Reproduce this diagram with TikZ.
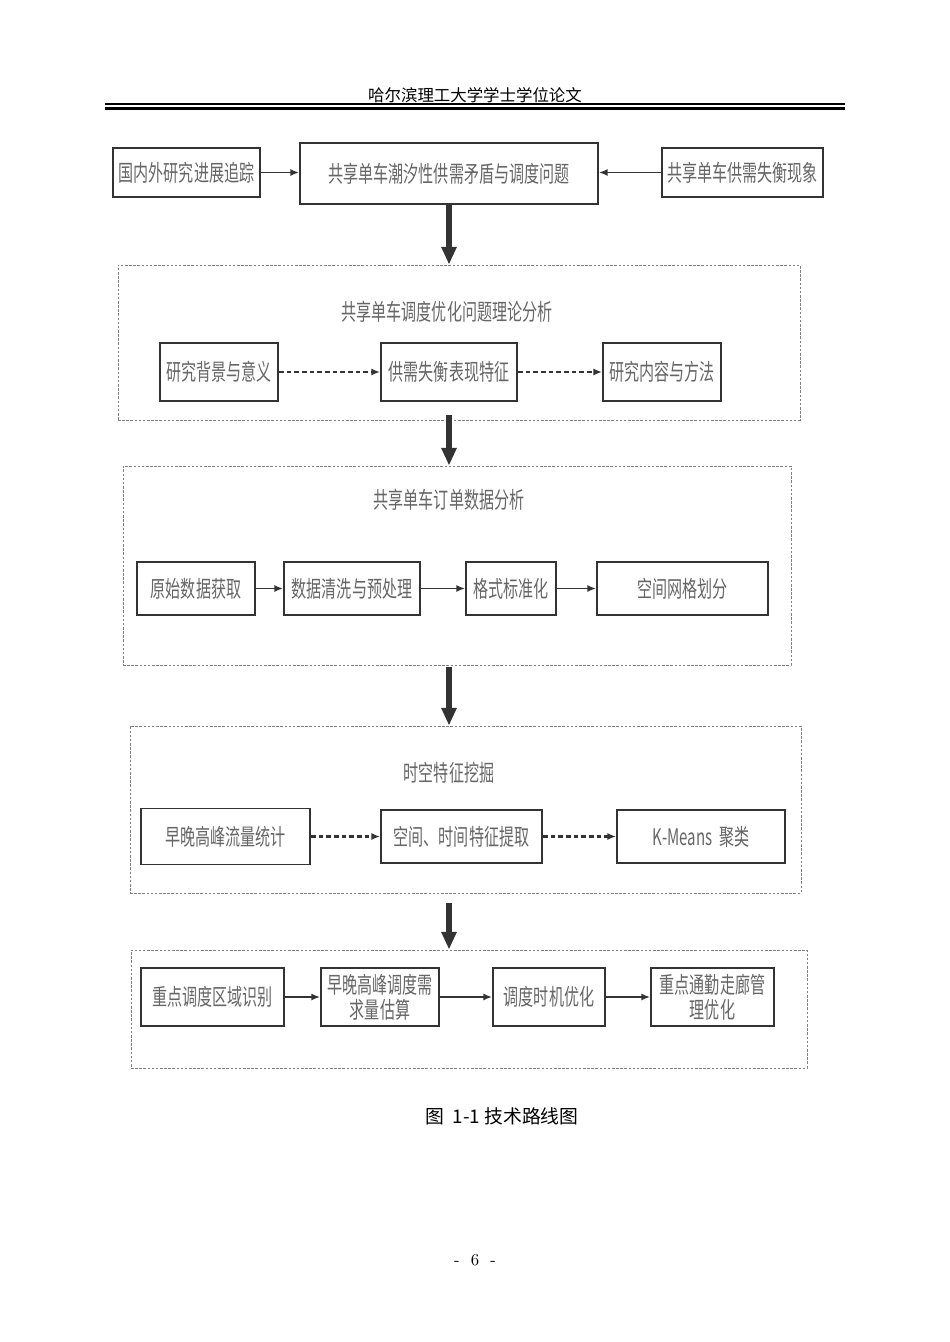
\documentclass[tikz,border=0pt]{standalone}
\usepackage{fontspec}
\newfontfamily\cjk{Noto Sans CJK SC}
\newfontfamily\cjkn[FakeStretch=0.66]{Noto Sans CJK SC}
\usepackage{tikz}
\usetikzlibrary{arrows.meta,positioning}
\definecolor{boxline}{rgb}{0.2,0.2,0.2}
\definecolor{boxtext}{rgb}{0.40,0.40,0.40}
\definecolor{framegray}{rgb}{0.50,0.50,0.50}

\begin{document}
\begin{tikzpicture}[x=0.627pt, y=-0.627pt,
    stepbox/.style={draw=boxline, line width=1.2pt, fill=white, inner sep=0pt,
                    text=boxtext, font=\cjkn\fontsize{14.3pt}{15.7pt}\selectfont,
                    align=center},
    wh/.style 2 args={minimum width=#1*0.627pt, minimum height=#2*0.627pt},
    frame/.style={draw=framegray, line width=0.6pt,
                  dash pattern=on 1.6pt off 1pt, inner sep=0pt},
    ttl/.style={text=boxtext, font=\cjkn\fontsize{14.3pt}{15.7pt}\selectfont},
    arr/.style={-{Latex[length=5.5pt,width=4.5pt]}, line width=1pt, draw=boxline},
    darr/.style={arr, line width=1.3pt, dash pattern=on 3pt off 1.8pt},
    bigarr/.style={-{Triangle[length=11pt,width=9pt]}, line width=3.4pt, draw=boxline}
  ]
    \fill[white] (0,0) rectangle (950,1342);
    \useasboundingbox (0,0) rectangle (950,1342);

    \node[font=\cjk\fontsize{10.3pt}{12pt}\selectfont] (hdr) at (475,95) {哈尔滨理工大学学士学位论文};
    \draw[line width=0.8pt] (105,104) -- (845,104);
    \draw[line width=1.8pt] (105,108.5) -- (845,108.5);

    \node[stepbox, wh={147}{49}]  (t1) at (186.5,172.5) {国内外研究进展追踪};
    \node[stepbox, wh={298}{61}]  (t2) at (449,173.5)   {共享单车潮汐性供需矛盾与调度问题};
    \node[stepbox, wh={161}{49}]  (t3) at (742.5,172.5) {共享单车供需失衡现象};
    \draw[arr] (t1.east) -- (t1.east -| t2.west);
    \draw[arr] (t3.west) -- (t3.west -| t2.east);

    \node[frame, wh={682}{155}] (f1) at (459,342.5) {};
    \node[ttl] (f1t) at (447,312) {共享单车调度优化问题理论分析};
    \node[stepbox, wh={118}{58}] (a1) at (219,372) {研究背景与意义};
    \node[stepbox, wh={136}{58}] (a2) at (449,372) {供需失衡表现特征};
    \node[stepbox, wh={118}{58}] (a3) at (662,372) {研究内容与方法};
    \draw[darr] (a1) -- (a2);
    \draw[darr] (a2) -- (a3);

    \node[frame, wh={668}{199}] (f2) at (457,565.5) {};
    \node[ttl] (f2t) at (449,500) {共享单车订单数据分析};
    \node[stepbox, wh={118}{53}] (b1) at (196,588.5)   {原始数据获取};
    \node[stepbox, wh={136}{53}] (b2) at (352,588.5)   {数据清洗与预处理};
    \node[stepbox, wh={90}{53}]  (b3) at (511,588.5)   {格式标准化};
    \node[stepbox, wh={171}{53}] (b4) at (682.5,588.5) {空间网格划分};
    \draw[arr] (b1) -- (b2);
    \draw[arr] (b2) -- (b3);
    \draw[arr] (b3) -- (b4);

    \node[frame, wh={671}{167}] (f3) at (465.5,809.5) {};
    \node[ttl] (f3t) at (449,773) {时空特征挖掘};
    \node[stepbox, wh={169}{56}] (c1) at (225.5,836.5) {早晚高峰流量统计};
    \node[stepbox, wh={161}{53}] (c2) at (461.5,836.5) {空间、时间特征提取};
    \node[stepbox, wh={168}{53}] (c3) at (701,836.5)   {K-Means\ \ 聚类};
    \draw[darr] (c1) -- (c2);
    \draw[darr] (c2) -- (c3);

    \node[frame, wh={676}{118}] (f4) at (469,1009) {};
    \node[stepbox, wh={143}{58}] (d1) at (212.5,997) {重点调度区域识别};
    \node[stepbox, wh={118}{58}] (d2) at (380,997)   {早晚高峰调度需\\求量估算};
    \node[stepbox, wh={112}{58}] (d3) at (549,997)   {调度时机优化};
    \node[stepbox, wh={123}{58}] (d4) at (712.5,997) {重点通勤走廊管\\理优化};
    \draw[arr] (d1) -- (d2);
    \draw[arr] (d2) -- (d3);
    \draw[arr] (d3) -- (d4);

    \draw[bigarr] (t2.south) -- (t2.south |- f1.north);
    \draw[bigarr] (t2 |- f1.south) ++(0,-5) -- (t2 |- f2.north);
    \draw[bigarr] (t2 |- f2.south) ++(0,2) -- (t2 |- f3.north);
    \draw[bigarr] (t2 |- f3.south) ++(0,10) -- (t2 |- f4.north);

    \node[font=\cjk\fontsize{11.8pt}{13pt}\selectfont] (cap) at (502,1116) {图\ \ 1-1 技术路线图};
    \node[font=\fontsize{10.5pt}{12pt}\selectfont] (pg) at (475,1260) {-\ \ 6\ \ -};
  \end{tikzpicture}
\end{document}
